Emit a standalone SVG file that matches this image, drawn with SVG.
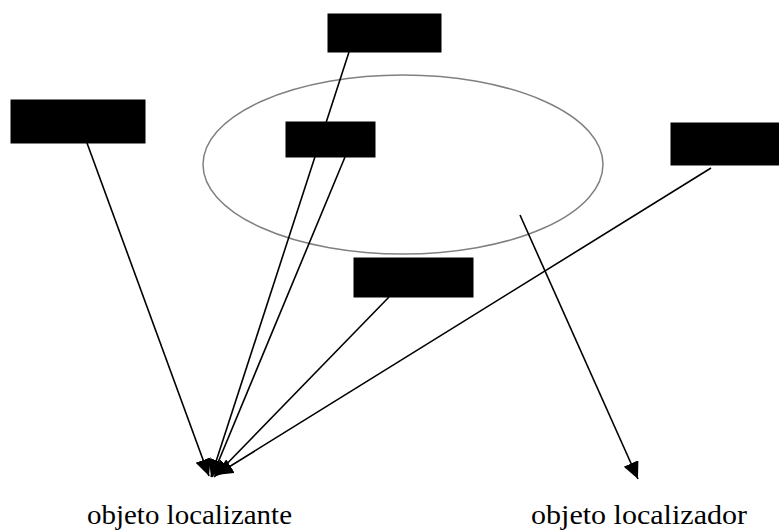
<svg xmlns="http://www.w3.org/2000/svg" width="779" height="530" viewBox="0 0 779 530">
<style>
.box{fill:#000;stroke:#000;stroke-width:1}
.ln{stroke:#000;stroke-width:1.6;fill:none;marker-end:url(#ah)}
.lbl{font-family:"Liberation Serif","Times New Roman",serif;font-size:27px;fill:#000}
</style>
<defs>
<marker id="ah" markerUnits="userSpaceOnUse" markerWidth="20" markerHeight="18" refX="17" refY="8" orient="auto">
<path d="M0,0 L17,8 L0,16 Z" fill="#000"/>
</marker>
</defs>
<rect width="779" height="530" fill="#fff"/>
<g id="ellipse">
<ellipse cx="403" cy="164.5" rx="200" ry="89.5" fill="none" stroke="#808080" stroke-width="1.5"/>
</g>
<g id="connectors">
<line class="ln" x1="349" y1="52" x2="211" y2="477"/>
<line class="ln" x1="345" y1="157" x2="212" y2="477"/>
<line class="ln" x1="87" y1="143" x2="209" y2="476"/>
<line class="ln" x1="389" y1="297" x2="214" y2="477"/>
<line class="ln" x1="711" y1="168" x2="216" y2="475"/>
<line class="ln" x1="520" y1="215" x2="638" y2="479"/>
</g>
<g id="node-top"><rect class="box" x="328" y="14" width="113" height="38"/></g>
<g id="node-left"><rect class="box" x="11" y="100" width="134" height="43"/></g>
<g id="node-middle"><rect class="box" x="286" y="122" width="89" height="35"/></g>
<g id="node-right"><rect class="box" x="671" y="123" width="108" height="42"/></g>
<g id="node-bottom"><rect class="box" x="354" y="258" width="119" height="39"/></g>
<g id="labels">
<text class="lbl" x="87" y="524" textLength="205" lengthAdjust="spacingAndGlyphs">objeto localizante</text>
<text class="lbl" x="531" y="524" textLength="216" lengthAdjust="spacingAndGlyphs">objeto localizador</text>
</g>
</svg>
